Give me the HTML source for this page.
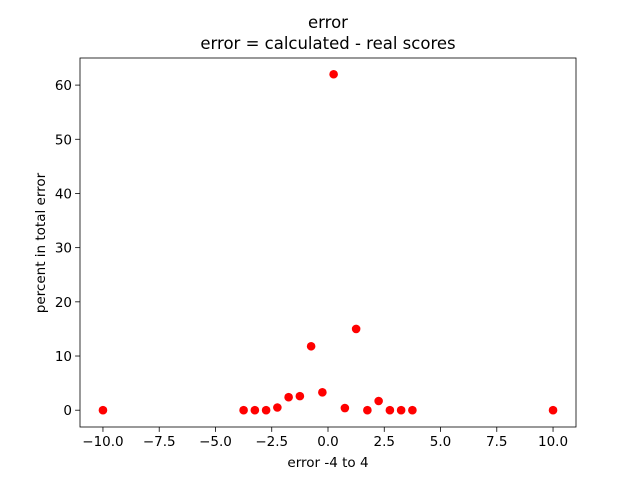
<!DOCTYPE html>
<html><head><meta charset="utf-8"><style>
body{margin:0;background:#fff;}
svg{display:block;font-family:"DejaVu Sans","Liberation Sans",sans-serif;}
</style></head><body>
<svg id="chart" width="640" height="480">
<rect width="640" height="480" fill="#fff"/>
<text x="328" y="28" text-anchor="middle" font-size="16.5">error</text>
<text x="328" y="49" text-anchor="middle" font-size="16.5">error = calculated - real scores</text>
<g id="axes"></g>
<text x="328" y="467" text-anchor="middle" font-size="13.5">error -4 to 4</text>
<text transform="translate(45,243) rotate(-90)" text-anchor="middle" font-size="13.5">percent in total error</text>
</svg>
<script>
const xValues=[-10,-3.75,-3.25,-2.75,-2.25,-1.75,-1.25,-0.75,-0.25,0.25,0.75,1.25,1.75,2.25,2.75,3.25,3.75,10];
const yValues=[0,0,0,0,0.5,2.4,2.6,11.8,3.3,62,0.4,15,0,1.7,0,0,0,0];
const xTicks=[-10,-7.5,-5,-2.5,0,2.5,5,7.5,10];
const xTickLabels=["−10.0","−7.5","−5.0","−2.5","0.0","2.5","5.0","7.5","10.0"];
const yTicks=[0,10,20,30,40,50,60];
const yTickLabels=["0","10","20","30","40","50","60"];
const L=80,R=576,T=58,B=427;
const xMin=-11.02,xMax=11.02,yMin=-3.1,yMax=65;
const sx=v=>L+(v-xMin)/(xMax-xMin)*(R-L);
const sy=v=>B-(v-yMin)/(yMax-yMin)*(B-T);
const NS="http://www.w3.org/2000/svg";
const g=document.getElementById('axes');
function mk(tag,attrs,parent){const e=document.createElementNS(NS,tag);for(const k in attrs)e.setAttribute(k,attrs[k]);(parent||g).appendChild(e);return e;}
xTicks.forEach((t,i)=>{
 const x=sx(t);
 const l=mk('line',{x1:x,x2:x,y1:B,y2:B+4.9,stroke:'#000','stroke-width':0.8});
 
 
 const tx=mk('text',{x:x,y:B+19,'text-anchor':'middle','font-size':13.5});
 tx.textContent=xTickLabels[i];
 
 
});
yTicks.forEach((t,i)=>{
 const y=sy(t);
 const l=mk('line',{x1:L-4.9,x2:L,y1:y,y2:y,stroke:'#000','stroke-width':0.8});
 
 
 const tx=mk('text',{x:L-8,y:y+5,'text-anchor':'end','font-size':13.5});
 tx.textContent=yTickLabels[i];
 
 
});
xValues.forEach((v,i)=>{
 const c=mk('circle',{cx:sx(v),cy:sy(yValues[i]),r:4.3,fill:'#ff0000'});
 
 
});
const f=mk('rect',{x:L,y:T,width:R-L,height:B-T,fill:'none',stroke:'#000','stroke-width':0.8});


</script>
</body></html>
